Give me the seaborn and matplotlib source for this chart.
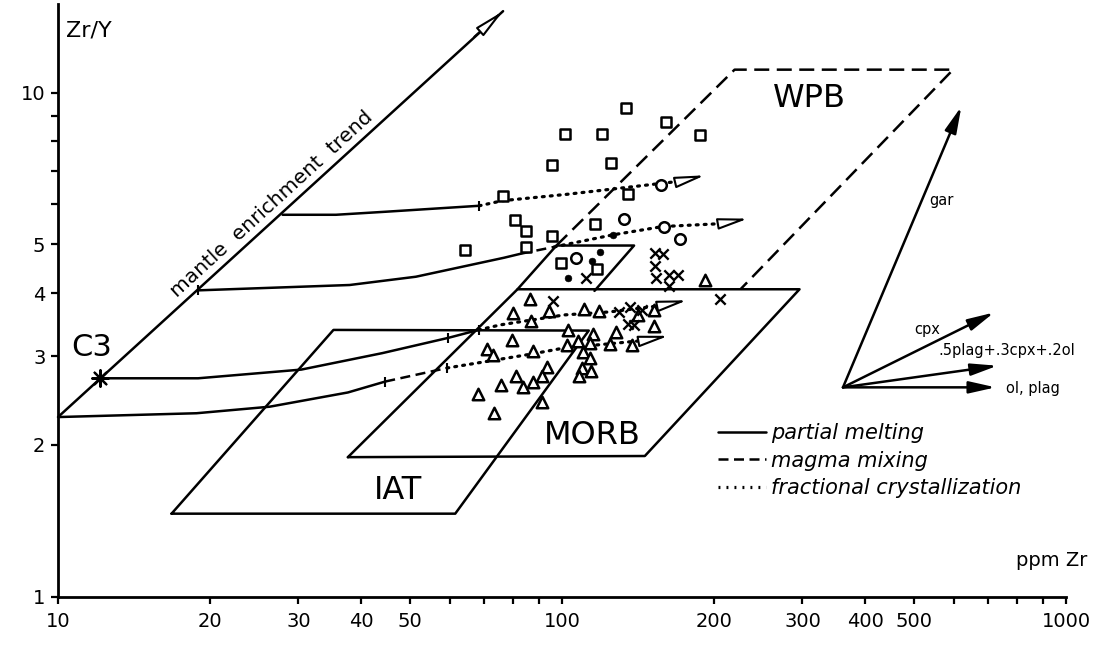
import math
import numpy as np
import pandas as pd
import matplotlib
matplotlib.use("Agg")
import matplotlib.pyplot as plt
import seaborn as sns
from matplotlib.lines import Line2D
from matplotlib.ticker import FixedLocator, FixedFormatter, NullFormatter

# ---------------- data (ppm Zr, Zr/Y) ----------------
sq_zr = [133.9, 161, 187.6, 101.6, 119.8, 95.6, 125.3, 76.3, 135.2, 80.5, 84.9, 95.5, 116.1, 64.3, 85.0, 99.5, 117.1]
sq_zry = [9.30, 8.75, 8.24, 8.27, 8.26, 7.19, 7.25, 6.24, 6.28, 5.58, 5.30, 5.18, 5.48, 4.88, 4.94, 4.59, 4.46]
ci_zr = [157.4, 132.6, 159.1, 171.4, 106.6]
ci_zry = [6.54, 5.61, 5.42, 5.11, 4.69]
dot_zr = [126.3, 119.1, 114.7, 102.8]
dot_zry = [5.22, 4.82, 4.63, 4.28]
x_zr = [153.1, 158.8, 152.8, 163.3, 170.2, 153.8, 162.9, 111.6, 206.1, 95.9, 129.5, 136.3, 138.9, 135.2, 143.9]
x_zry = [4.80, 4.79, 4.52, 4.35, 4.34, 4.28, 4.13, 4.29, 3.90, 3.85, 3.67, 3.75, 3.45, 3.47, 3.71]
tri_zr = [192.3, 86.4, 80.1, 86.9, 94.4, 110.4, 118.2, 141.8, 152.0, 102.6, 115.0, 127.8, 152.2, 79.6,
          70.9, 72.8, 87.5, 102.3, 107.7, 113.7, 124.6, 137.7, 109.9, 113.4, 109.6, 114.1, 107.9, 93.4,
          91.1, 87.7, 83.8, 80.9, 75.7, 68.0, 91.4, 73.3]
tri_zry = [4.24, 3.90, 3.65, 3.52, 3.68, 3.72, 3.68, 3.62, 3.70, 3.38, 3.32, 3.35, 3.44, 3.23,
           3.10, 3.01, 3.07, 3.15, 3.22, 3.18, 3.17, 3.15, 3.05, 2.97, 2.84, 2.80, 2.74, 2.85,
           2.74, 2.67, 2.61, 2.74, 2.63, 2.52, 2.43, 2.31]

c3_zr, c3_zry = 12.1, 2.71
mantle_zr = [10, 76.4]
mantle_zry = [2.27, 14.5]

# partial melting (solid), magma mixing (dashed), fractional crystallization (dotted)
pmA_zr = [27.9, 35.6, 44.7, 68.5]
pmA_zry = [5.72, 5.72, 5.80, 5.96]
fcA_zr = [68.5, 76.2, 102.2, 130.5, 171.9]
fcA_zry = [5.96, 6.10, 6.28, 6.46, 6.67]
fcA_tip = (192.1, 6.85)

pmB_zr = [19.0, 37.9, 51.3, 76.7, 83.0]
pmB_zry = [4.05, 4.15, 4.31, 4.70, 4.79]
mmB_zr = [83.0, 96.6]
mmB_zry = [4.79, 4.94]
fcB_zr = [96.6, 126.3, 158.3, 204.6]
fcB_zry = [4.94, 5.22, 5.42, 5.49]
fcB_tip = (233.9, 5.62)

pmC_zr = [12.1, 18.97, 30.4, 44.0, 59.5, 68.3]
pmC_zry = [2.71, 2.71, 2.82, 3.04, 3.26, 3.38]
fcC_zr = [68.3, 75.6, 101.1, 124.3, 157.8]
fcC_zry = [3.38, 3.46, 3.62, 3.67, 3.78]
fcC_tip = (177.1, 3.87)

pmD_zr = [10, 18.83, 26.3, 37.6, 44.6]
pmD_zry = [2.27, 2.31, 2.38, 2.54, 2.67]
mmD_zr = [44.6, 59.1]
mmD_zry = [2.67, 2.84]
fcD_zr = [59.1, 87.4, 102.3, 119.0, 144.9]
fcD_zry = [2.84, 3.03, 3.12, 3.16, 3.22]
fcD_tip = (162.7, 3.29)

tick_zr = [68.5, 19.0, 59.5, 68.3, 44.6, 59.1]
tick_zry = [5.96, 4.05, 3.26, 3.38, 2.67, 2.84]

# discrimination fields
iat_zr = [16.8, 35.2, 113, 61.4, 16.8]
iat_zry = [1.46, 3.38, 3.37, 1.46, 1.46]
morb_zr = [37.6, 81.6, 296, 146, 37.6]
morb_zry = [1.89, 4.07, 4.07, 1.90, 1.89]
wpb_solid_zr = [81.6, 97.5, 139, 116]
wpb_solid_zry = [4.07, 4.97, 4.97, 4.04]
wpb_dash_zr = [97.5, 220, 597, 226]
wpb_dash_zry = [4.97, 11.1, 11.1, 4.07]

# mineral vectors
vec_origin = (361, 2.60)
vec_names = ["gar", "cpx", ".5plag+.3cpx+.2ol", "ol, plag"]
vec_tip_zr = [620, 720, 731, 725]
vec_tip_zry = [9.38, 3.66, 2.87, 2.60]
vec_lab_zr = [535, 500, 557, 759]
vec_lab_zry = [6.1, 3.38, 3.07, 2.59]

xticks_major = [10, 20, 30, 40, 50, 100, 200, 300, 400, 500, 1000]
xticks_minor = [60, 70, 80, 90, 600, 700, 800, 900]
yticks_major = [1, 2, 3, 4, 5, 10]
yticks_minor = [6, 7, 8, 9]

# ---------------- figure ----------------
sns.set_style("ticks")
plt.rcParams["font.family"] = ["DejaVu Sans"]
plt.rcParams["text.color"] = "black"
plt.rcParams["axes.labelcolor"] = "black"
W, H = 1112, 653
fig = plt.figure(figsize=(W / 100, H / 100), dpi=100)
ax_left, ax_bottom_px, dec = 58, 596.5, 504
ymax = 15
ax = fig.add_axes([ax_left / W, (H - ax_bottom_px) / H, 2 * dec / W, dec * math.log10(ymax) / H])
ax.set_xscale("log")
ax.set_yscale("log")
ax.set_xlim(10, 1000)
ax.set_ylim(1, ymax)

K = "black"
LW = 1.8
dotted = (0, (0.6, 1.9))
dashed = (0, (4, 2.2))
longdash = (0, (6, 3))

# fields
ax.plot(iat_zr, iat_zry, color=K, lw=LW)
ax.plot(morb_zr, morb_zry, color=K, lw=LW)
ax.plot(wpb_solid_zr, wpb_solid_zry, color=K, lw=LW)
ax.plot(wpb_dash_zr, wpb_dash_zry, color=K, lw=LW, linestyle=longdash)

# mantle enrichment trend
ax.plot(mantle_zr, mantle_zry, color=K, lw=LW, clip_on=False)
open_head = dict(arrowstyle="-|>,head_length=0.9,head_width=0.17", mutation_scale=20,
                 lw=1.5, ec=K, fc="white", shrinkA=0, shrinkB=0)
ax.annotate("", xy=(mantle_zr[1], mantle_zry[1]), xytext=(67, 12.9),
            arrowprops=open_head, annotation_clip=False)

# curves
for zr, zry in [(pmA_zr, pmA_zry), (pmB_zr, pmB_zry), (pmC_zr, pmC_zry), (pmD_zr, pmD_zry)]:
    ax.plot(zr, zry, color=K, lw=LW)
for zr, zry in [(mmB_zr, mmB_zry), (mmD_zr, mmD_zry)]:
    ax.plot(zr, zry, color=K, lw=LW, linestyle=dashed)
for zr, zry, tip in [(fcA_zr, fcA_zry, fcA_tip), (fcB_zr, fcB_zry, fcB_tip),
                     (fcC_zr, fcC_zry, fcC_tip), (fcD_zr, fcD_zry, fcD_tip)]:
    ax.plot(zr, zry, color=K, lw=2.3, linestyle=dotted, dash_capstyle="round")
    ax.annotate("", xy=tip, xytext=(zr[-1], zry[-1]), arrowprops=open_head)
ax.scatter(tick_zr, tick_zry, marker="|", s=60, color=K, linewidths=1.5, zorder=3)

# data points
pts = pd.concat([
    pd.DataFrame({"Zr": sq_zr, "ZrY": sq_zry, "grp": "square"}),
    pd.DataFrame({"Zr": ci_zr, "ZrY": ci_zry, "grp": "circle"}),
    pd.DataFrame({"Zr": tri_zr, "ZrY": tri_zry, "grp": "triangle"}),
], ignore_index=True)
for grp, mk, s in [("square", "s", 58), ("circle", "o", 58), ("triangle", "^", 68)]:
    sub = pts[pts.grp == grp]
    sns.scatterplot(data=sub, x="Zr", y="ZrY", marker=mk, s=s, facecolor="white",
                    edgecolor=K, linewidth=1.8, ax=ax, zorder=4)
sns.scatterplot(x=dot_zr, y=dot_zry, marker="o", s=24, color=K, edgecolor=K, ax=ax, zorder=4)
sns.scatterplot(x=x_zr, y=x_zry, marker="x", s=55, color=K, linewidth=1.7, ax=ax, zorder=4)
ax.scatter([c3_zr], [c3_zry], marker=(8, 2, 0), s=140, color=K, linewidths=1.6, zorder=5)

# mineral vectors
fill_head = dict(arrowstyle="-|>,head_length=0.8,head_width=0.18", mutation_scale=20,
                 lw=1.8, color=K, shrinkA=0, shrinkB=0)
for tx, ty in zip(vec_tip_zr, vec_tip_zry):
    ax.annotate("", xy=(tx, ty), xytext=vec_origin, arrowprops=fill_head)
for name, lx, ly in zip(vec_names, vec_lab_zr, vec_lab_zry):
    ax.text(lx, ly, name, fontsize=10.5, ha="left", va="center", color=K)

# labels in the plot
ax.text(309.7, 9.71, "WPB", fontsize=23, ha="center", va="center", color=K)
ax.text(114.7, 2.09, "MORB", fontsize=23, ha="center", va="center", color=K)
ax.text(47.3, 1.62, "IAT", fontsize=23, ha="center", va="center", color=K)
ax.text(11.65, 3.12, "C3", fontsize=22, ha="center", va="center", color=K)
fig.canvas.draw()
p1 = ax.transData.transform((mantle_zr[0], mantle_zry[0]))
p2 = ax.transData.transform((mantle_zr[1], mantle_zry[1]))
ang = math.degrees(math.atan2(p2[1] - p1[1], p2[0] - p1[0]))
ax.text(26.5, 6.0, "mantle  enrichment  trend", fontsize=14.5, rotation=ang,
        rotation_mode="anchor", ha="center", va="center", color=K)

# legend
handles = [Line2D([], [], color=K, lw=LW),
           Line2D([], [], color=K, lw=LW, linestyle=dashed),
           Line2D([], [], color=K, lw=2.3, linestyle=dotted)]
leg = ax.legend(handles, ["partial melting", "magma mixing", "fractional crystallization"],
                loc="upper left", bbox_to_anchor=(0.655, 0.292), frameon=False,
                prop={"style": "italic", "size": 15}, handlelength=2.3, handletextpad=0.25,
                labelspacing=0.35, borderaxespad=0, borderpad=0)
for t in leg.get_texts():
    t.set_color(K)

# axes
sns.despine(ax=ax)
for sp in ["left", "bottom"]:
    ax.spines[sp].set_linewidth(2)
    ax.spines[sp].set_color(K)
ax.xaxis.set_major_locator(FixedLocator(xticks_major))
ax.xaxis.set_major_formatter(FixedFormatter([str(v) for v in xticks_major]))
ax.xaxis.set_minor_locator(FixedLocator(xticks_minor))
ax.xaxis.set_minor_formatter(NullFormatter())
ax.yaxis.set_major_locator(FixedLocator(yticks_major))
ax.yaxis.set_major_formatter(FixedFormatter([str(v) for v in yticks_major]))
ax.yaxis.set_minor_locator(FixedLocator(yticks_minor))
ax.yaxis.set_minor_formatter(NullFormatter())
ax.tick_params(axis="both", which="both", direction="out", length=5, width=1.6, labelsize=14,
               color=K, labelcolor=K)
ax.tick_params(axis="x", pad=6)
ax.tick_params(axis="y", pad=4)
ax.set_xlabel("")
ax.set_ylabel("")
ax.text((89 - ax_left) / (2 * dec), (ax_bottom_px - 31) / (dec * math.log10(ymax)), "Zr/Y",
        transform=ax.transAxes, fontsize=16, ha="center", va="center", color=K)
ax.text((1052 - ax_left) / (2 * dec), (ax_bottom_px - 561) / (dec * math.log10(ymax)), "ppm Zr",
        transform=ax.transAxes, fontsize=14, ha="center", va="center", color=K)

fig.savefig("out.png", dpi=100, facecolor="white")
